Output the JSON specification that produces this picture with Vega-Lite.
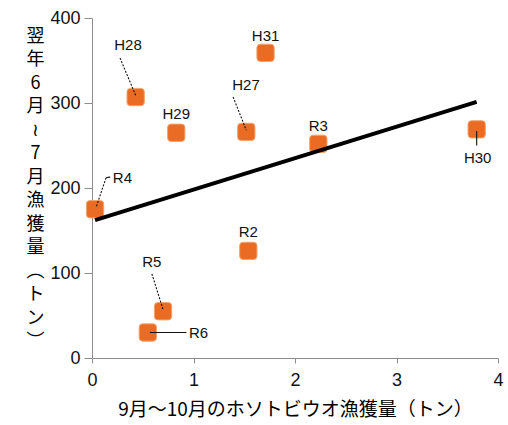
{
  "$schema": "https://vega.github.io/schema/vega-lite/v6.json",
  "width": 406,
  "height": 340,
  "autosize": "none",
  "padding": {"left": 92, "top": 18, "right": 10, "bottom": 67},
  "background": "white",
  "config": {"view": {"stroke": null}, "font": "Liberation Sans"},
  "datasets": {
    "pts": [
      {"name": "R4", "x": 0.03, "y": 175},
      {"name": "H28", "x": 0.43, "y": 307},
      {"name": "H29", "x": 0.83, "y": 265},
      {"name": "H27", "x": 1.52, "y": 266},
      {"name": "H31", "x": 1.71, "y": 359},
      {"name": "R3", "x": 2.23, "y": 252},
      {"name": "H30", "x": 3.79, "y": 269},
      {"name": "R2", "x": 1.54, "y": 126},
      {"name": "R5", "x": 0.7, "y": 55},
      {"name": "R6", "x": 0.55, "y": 30}
    ],
    "labels": [
      {"name": "R4", "x": 0.3, "y": 212},
      {"name": "H28", "x": 0.355, "y": 368},
      {"name": "H29", "x": 0.83, "y": 287},
      {"name": "H27", "x": 1.517, "y": 321},
      {"name": "H31", "x": 1.71, "y": 379},
      {"name": "R3", "x": 2.23, "y": 273},
      {"name": "H30", "x": 3.8, "y": 235},
      {"name": "R2", "x": 1.54, "y": 148},
      {"name": "R5", "x": 0.59, "y": 113},
      {"name": "R6", "x": 1.05, "y": 29}
    ],
    "leaders": [
      {"x": 0.276, "y": 353, "x2": 0.43, "y2": 309, "kind": "dotted"},
      {"x": 1.39, "y": 307, "x2": 1.52, "y2": 268, "kind": "dotted"},
      {"x": 0.59, "y": 99, "x2": 0.7, "y2": 57, "kind": "dotted"},
      {"x": 0.57, "y": 30, "x2": 0.93, "y2": 30, "kind": "solid"},
      {"x": 0.18, "y": 213, "x2": 0.138, "y2": 212, "kind": "solid"},
      {"x": 0.138, "y": 212, "x2": 0.04, "y2": 177, "kind": "dotted"},
      {"x": 3.79, "y": 267, "x2": 3.79, "y2": 250, "kind": "solid"}
    ]
  },
  "encoding": {
    "x": {
      "field": "x", "type": "quantitative",
      "scale": {"domain": [0, 4], "nice": false, "zero": false},
      "axis": {
        "values": [0, 1, 2, 3, 4], "grid": false, "format": "d",
        "domainColor": "#8c8c8c", "tickColor": "#8c8c8c", "tickSize": 5,
        "labelFontSize": 18, "labelColor": "#111", "labelPadding": 8,
        "labelFlush": false,
        "title": "9月～10月のホソトビウオ漁獲量（トン）",
        "titleFont": "Noto Sans CJK JP", "titleFontSize": 19, "titleFontWeight": "normal",
        "titleColor": "#000", "titleY": 42, "titleBaseline": "top"
      }
    },
    "y": {
      "field": "y", "type": "quantitative",
      "scale": {"domain": [0, 400], "nice": false, "zero": false},
      "axis": {
        "values": [0, 100, 200, 300, 400], "grid": false,
        "domainColor": "#8c8c8c", "tickColor": "#8c8c8c", "tickSize": 8,
        "labelFontSize": 18, "labelColor": "#111", "labelPadding": 4,
        "labelFlush": false,
        "title": ["翌", "年", "6", "月", "≀", "7", "月", "漁", "獲", "量", "︵", "ト", "ン", "︶"],
        "titleFont": "Noto Sans CJK JP", "titleFontSize": 18, "titleFontWeight": "normal",
        "titleColor": "#000", "titleAngle": 0, "titleAlign": "center",
        "titleBaseline": "top", "titleX": -57, "titleY": 9, "titleLineHeight": 23.5
      }
    }
  },
  "layer": [
    {
      "data": {"name": "pts"},
      "mark": {
        "type": "point",
        "filled": true,
        "shape": "M-1,-0.6Q-1,-1,-0.6,-1L0.6,-1Q1,-1,1,-0.6L1,0.6Q1,1,0.6,1L-0.6,1Q-1,1,-1,0.6Z",
        "size": 300,
        "color": "#EA6C24",
        "stroke": "#F3A46E",
        "strokeWidth": 1,
        "opacity": 1
      }
    },
    {
      "data": {"name": "leaders"},
      "mark": {"type": "rule", "color": "#111", "strokeWidth": 1.1},
      "encoding": {
        "x2": {"field": "x2"},
        "y2": {"field": "y2"},
        "strokeDash": {
          "field": "kind", "type": "nominal", "legend": null,
          "scale": {"domain": ["dotted", "solid"], "range": [[2, 1.5], [1, 0]]}
        }
      }
    },
    {
      "data": {"name": "pts"},
      "transform": [{"regression": "y", "on": "x", "method": "linear"}],
      "mark": {"type": "line", "color": "#000", "strokeWidth": 4}
    },
    {
      "data": {"name": "labels"},
      "mark": {"type": "text", "fontSize": 15, "color": "#111", "font": "Liberation Sans", "baseline": "middle", "align": "center"},
      "encoding": {
        "text": {"field": "name"}
      }
    }
  ]
}
